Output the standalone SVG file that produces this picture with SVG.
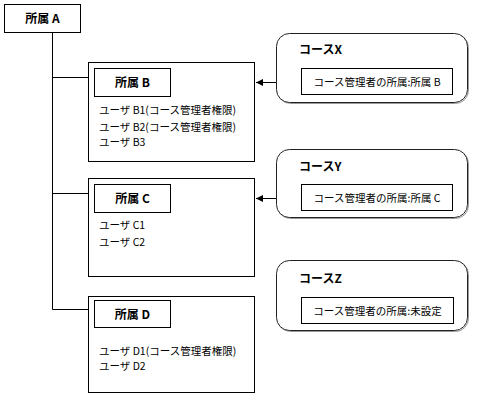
<svg xmlns="http://www.w3.org/2000/svg" width="479" height="412" viewBox="0 0 479 412">
<defs>
<style>
.box{fill:#fff;stroke:#000;stroke-width:1}
.rbox{fill:#fff;stroke:#222;stroke-width:1}
.shadow{fill:none;stroke:#999;stroke-width:1}
.ln{fill:none;stroke:#000;stroke-width:1}
.t{font-family:"Noto Sans CJK JP","Noto Sans",sans-serif;font-size:10.5px;fill:#000}
.tb{font-family:"Noto Sans CJK JP","Noto Sans",sans-serif;font-size:12px;font-weight:bold;fill:#000}
</style>
<marker id="ah" markerWidth="8" markerHeight="8" refX="7" refY="4" orient="auto" markerUnits="userSpaceOnUse">
<path d="M0,0.5 L7,4 L0,7.5 Z" fill="#000"/>
</marker>
</defs>
<rect width="479" height="412" fill="#fff"/>
<g id="connectors">
<path class="ln" d="M52.5,32 V309.5"/>
<path class="ln" d="M52.5,77.5 H88"/>
<path class="ln" d="M52.5,193.5 H88"/>
<path class="ln" d="M52.5,309.5 H88"/>
<path class="ln" d="M302,82.5 H256" marker-end="url(#ah)"/>
<path class="ln" d="M302,198.5 H256" marker-end="url(#ah)"/>
</g>
<g id="nodeA">
<rect class="box" x="4.5" y="4.5" width="76" height="28"/>
<text class="tb" x="42.5" y="23" text-anchor="middle">所属 A</text>
</g>
<g id="nodeB">
<rect class="box" x="88.5" y="62.5" width="166" height="99"/>
<rect class="box" x="94.5" y="68.5" width="76" height="28"/>
<text class="tb" x="132.5" y="87" text-anchor="middle">所属 B</text>
<text class="t" x="99" y="114">ユーザ B1(コース管理者権限)</text>
<text class="t" x="99" y="130.5">ユーザ B2(コース管理者権限)</text>
<text class="t" x="99" y="146">ユーザ B3</text>
</g>
<g id="nodeC">
<rect class="box" x="88.5" y="178.5" width="166" height="98"/>
<rect class="box" x="94.5" y="184.5" width="76" height="28"/>
<text class="tb" x="132.5" y="203" text-anchor="middle">所属 C</text>
<text class="t" x="99" y="229">ユーザ C1</text>
<text class="t" x="99" y="245.5">ユーザ C2</text>
</g>
<g id="nodeD">
<rect class="box" x="88.5" y="296.5" width="166" height="96"/>
<rect class="box" x="94.5" y="300.5" width="76" height="27"/>
<text class="tb" x="132.5" y="318.5" text-anchor="middle">所属 D</text>
<text class="t" x="99" y="354.5">ユーザ D1(コース管理者権限)</text>
<text class="t" x="99" y="370">ユーザ D2</text>
</g>
<g id="courseX">
<rect class="shadow" x="277.5" y="34.5" width="191" height="69" rx="13"/>
<rect class="rbox" x="276.5" y="33.5" width="191" height="69" rx="13"/>
<text class="tb" x="299" y="53.5">コースX</text>
<rect class="box" x="301.5" y="68.5" width="151" height="26"/>
<text class="t" x="377" y="86" text-anchor="middle">コース管理者の所属:所属 B</text>
</g>
<g id="courseY">
<rect class="shadow" x="277.5" y="150.5" width="191" height="68" rx="13"/>
<rect class="rbox" x="276.5" y="149.5" width="191" height="68" rx="13"/>
<text class="tb" x="299" y="170.5">コースY</text>
<rect class="box" x="301.5" y="184.5" width="151" height="26"/>
<text class="t" x="377" y="202" text-anchor="middle">コース管理者の所属:所属 C</text>
</g>
<g id="courseZ">
<rect class="shadow" x="277.5" y="261.5" width="191" height="70" rx="13"/>
<rect class="rbox" x="276.5" y="260.5" width="191" height="70" rx="13"/>
<text class="tb" x="299" y="282.5">コースZ</text>
<rect class="box" x="301.5" y="297.5" width="152" height="26"/>
<text class="t" x="377.5" y="314.5" text-anchor="middle">コース管理者の所属:未設定</text>
</g>
</svg>
